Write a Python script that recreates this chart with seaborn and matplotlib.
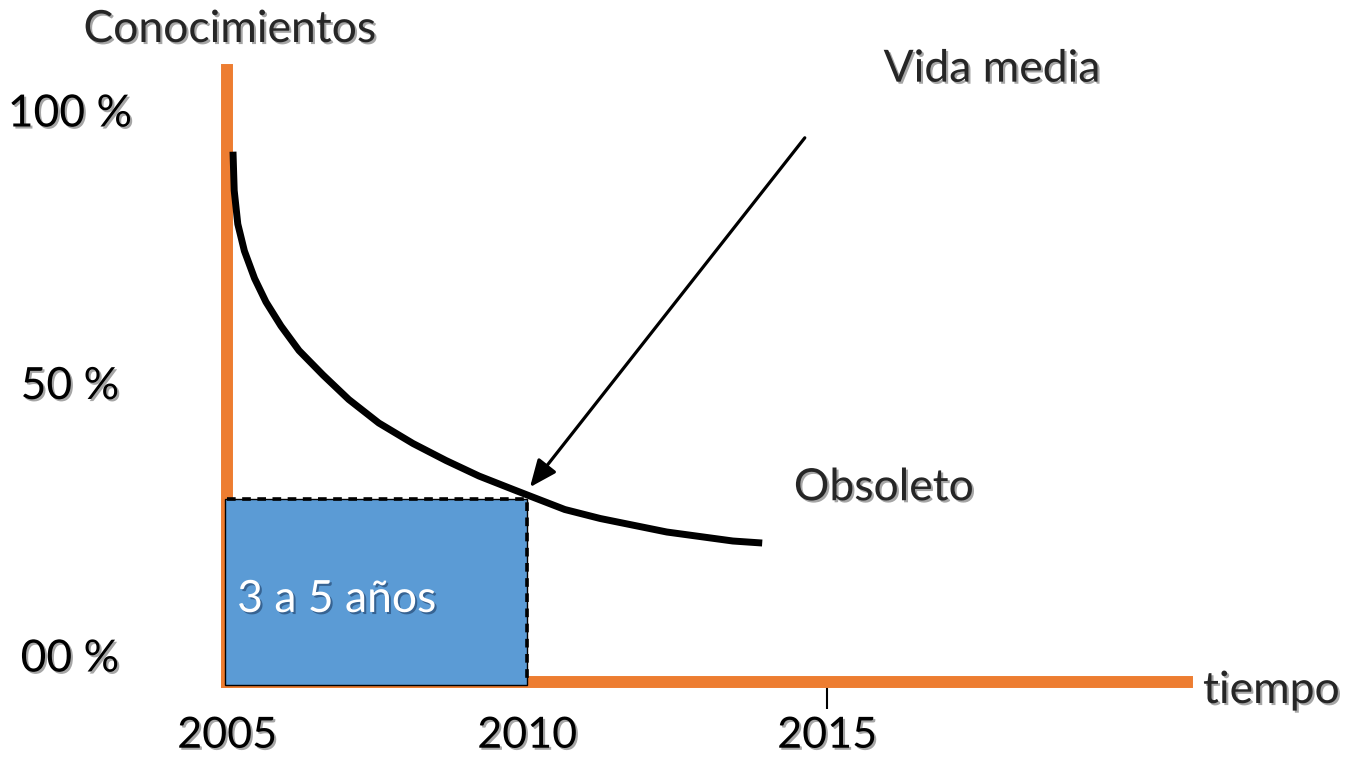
import matplotlib
matplotlib.use("Agg")
import matplotlib.pyplot as plt
import matplotlib.patheffects as pe
import seaborn as sns
import pandas as pd

# curve: year vs % of knowledge still valid
years = [2005.10, 2005.12, 2005.18, 2005.29, 2005.46, 2005.65, 2005.90, 2006.20,
         2006.60, 2007.03, 2007.53, 2008.10, 2008.65, 2009.20, 2009.77, 2010.05,
         2010.63, 2011.22, 2012.33, 2013.43, 2013.92]
knowledge = [92.35, 85.23, 79.08, 74.13, 69.08, 64.77, 60.37, 55.87,
             51.38, 46.88, 42.57, 38.81, 35.69, 32.84, 30.37, 29.17,
             26.70, 25.05, 22.57, 20.92, 20.55]

x_ticks = [2005, 2010, 2015]
x_tick_labels = ["2005", "2010", "2015"]
y_ticks = [0, 50, 100]
y_tick_labels = ["00 %", "50 %", "100 %"]

# half-life box: 2005 -> 2010, up to where the curve crosses
box_start = 2005
box_end = 2010
box_top = 28.6
box_label = "3 a 5 años"

vida_media_point = (2010.05, 30.8)
vida_media_from = (2014.63, 94.9)

ORANGE = "#ED7D31"
BLUE = "#5B9BD5"

sns.set_theme(style="white")
plt.rcParams["font.family"] = ["Lato", "DejaVu Sans"]
FS = 32

shadow = [pe.withSimplePatchShadow(offset=(1.5, -1.5), shadow_rgbFace="black", alpha=0.35)]
shadow_white = [pe.withSimplePatchShadow(offset=(1.5, -1.5), shadow_rgbFace="#1f3f66", alpha=0.6)]

df = pd.DataFrame({"year": years, "knowledge": knowledge})

W, H = 1347, 758
fig = plt.figure(figsize=(W / 100, H / 100), dpi=100)
ax = fig.add_axes([227 / W, (H - 682) / H, 960 / W, 612 / H])

ax.set_xlim(2005, 2021)
ax.set_ylim(-4.95, 107.34)
y0 = ax.get_ylim()[0]

sns.lineplot(data=df, x="year", y="knowledge", color="black", lw=5.0, ax=ax,
             solid_capstyle="butt", solid_joinstyle="round", zorder=4)

# blue box with dotted top/right edge
ax.bar(box_start - 0.03, box_top - y0 + 0.5, bottom=y0 - 0.5,
       width=box_end - box_start + 0.03, align="edge", color=BLUE,
       edgecolor="black", linewidth=1.0, zorder=3, clip_on=False)
ax.plot([box_start, box_end, box_end], [box_top, box_top, y0],
        color="black", lw=2.6, ls=(0, (2.4, 1.8)), zorder=3.5, clip_on=False)
ax.text(box_start + 0.17, 7.9, box_label, color="white", fontsize=FS,
        ha="left", va="baseline", zorder=5, path_effects=shadow_white)

# arrow to the half-life point
ax.annotate("", xy=vida_media_point, xytext=vida_media_from,
            arrowprops=dict(arrowstyle="-|>,head_length=0.75,head_width=0.32",
                            mutation_scale=22, lw=2.3, color="black",
                            shrinkA=0, shrinkB=0), zorder=5)

ax.text(2017.75, 105.2, "Vida media", fontsize=FS, ha="center", va="baseline",
        path_effects=shadow)
ax.text(2015.95, 28.4, "Obsoleto", fontsize=FS, ha="center", va="baseline",
        path_effects=shadow)

# orange axis lines
for s in ["top", "right"]:
    ax.spines[s].set_visible(False)
for s in ["left", "bottom"]:
    ax.spines[s].set_color(ORANGE)
    ax.spines[s].set_linewidth(8.6)

ax.set_xticks(x_ticks, x_tick_labels)
ax.set_yticks(y_ticks, y_tick_labels)
ax.tick_params(axis="both", length=0, labelsize=FS, labelcolor="black")
ax.tick_params(axis="x", pad=25, labelsize=31)
ax.tick_params(axis="y", pad=113)
for lab in ax.get_yticklabels():
    lab.set_horizontalalignment("center")
    lab.set_path_effects(shadow)
for lab in ax.get_xticklabels():
    lab.set_path_effects(shadow)

# only 2015 gets a visible tick mark
ax.xaxis.remove_overlapping_locs = False
ax.set_xticks([2015], minor=True)
ax.tick_params(axis="x", which="minor", bottom=True, length=19.5, width=1.5,
               color="black", direction="out")

ax.set_xlabel("tiempo", fontsize=FS, ha="left", va="baseline", path_effects=shadow)
ax.xaxis.set_label_coords((1203 - 227) / 960, (682 - 703) / 612)
ax.set_ylabel("Conocimientos", fontsize=FS, rotation=0, ha="center", va="baseline",
              path_effects=shadow)
ax.yaxis.set_label_coords((230 - 227) / 960, (682 - 42) / 612)

ax.grid(False)
fig.savefig("out.png", dpi=100)
